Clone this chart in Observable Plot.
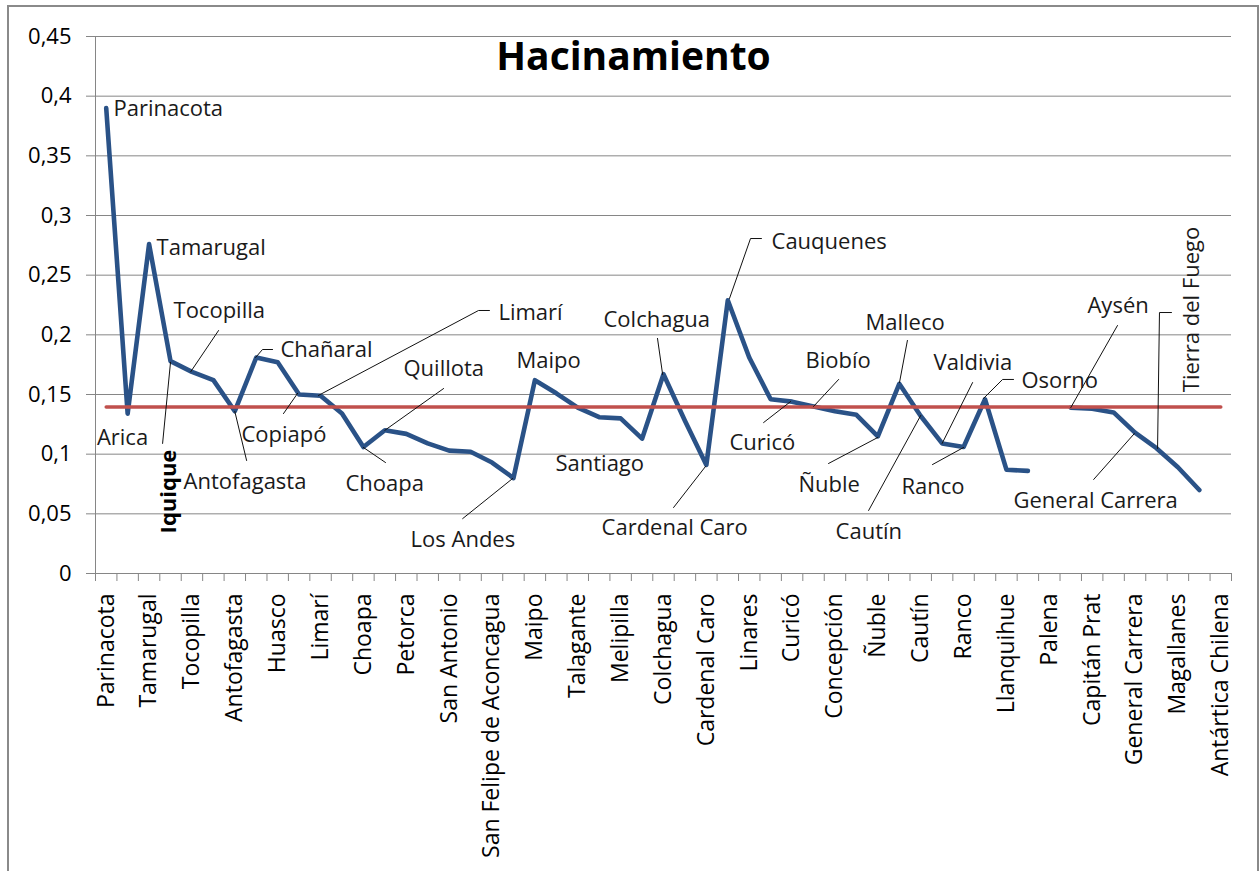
<!DOCTYPE html>
<html>
<head>
<meta charset="utf-8">
<script src="https://cdn.jsdelivr.net/npm/d3@7"></script>
<script src="https://cdn.jsdelivr.net/npm/@observablehq/plot@0.6"></script>
<style>
  body { margin: 0; background: #fff; }
  #wrap { position: relative; width: 1260px; height: 871px; overflow: hidden; background: #fff; }
  #border { position: absolute; left: 7px; top: 5px; width: 1252px; height: 900px; border: 2px solid #8a8a8a; box-sizing: border-box; pointer-events: none; }
</style>
</head>
<body>
<div id="wrap"><div id="chart"></div><div id="border"></div></div>
<script>
// Categories (provincias) in chart order
const provincias = [
  "Parinacota", "Arica", "Tamarugal", "Iquique", "Tocopilla", "El Loa", "Antofagasta",
  "Chañaral", "Huasco", "Copiapó", "Limarí", "Elqui", "Choapa", "Quillota", "Petorca",
  "Valparaíso", "San Antonio", "Isla de Pascua", "San Felipe de Aconcagua", "Los Andes",
  "Maipo", "Cordillera", "Talagante", "Santiago", "Melipilla", "Chacabuco", "Colchagua",
  "Cachapoal", "Cardenal Caro", "Cauquenes", "Linares", "Talca", "Curicó", "Biobío",
  "Concepción", "Arauco", "Ñuble", "Malleco", "Cautín", "Valdivia", "Ranco", "Osorno",
  "Llanquihue", "Chiloé", "Palena", "Aysén", "Capitán Prat", "Coyhaique", "General Carrera",
  "Tierra del Fuego", "Magallanes", "Última Esperanza", "Antártica Chilena"
];
// Series values (hacinamiento), null = no data
const hacinamiento = [
  0.390, 0.134, 0.276, 0.178, 0.169, 0.162, 0.136,
  0.181, 0.177, 0.150, 0.149, 0.134, 0.106, 0.120, 0.117,
  0.109, 0.103, 0.102, 0.093, 0.080,
  0.162, 0.151, 0.139, 0.131, 0.130, 0.113, 0.167,
  0.128, 0.091, 0.229, 0.181, 0.146, 0.144, 0.140,
  0.136, 0.133, 0.115, 0.159, 0.132, 0.109, 0.106, 0.146,
  0.087, 0.086, null, 0.139, 0.138, 0.135, 0.118,
  0.105, 0.089, 0.070, null
];
// Average line value
const promedio = 0.1395;
// Y tick values
const yTicks = [0, 0.05, 0.1, 0.15, 0.2, 0.25, 0.3, 0.35, 0.4, 0.45];
// X tick labels: every other category
const xTickIdx = provincias.map((_, i) => i).filter(i => i % 2 === 0);
const xBoundaries = d3.range(-0.5, provincias.length, 1);

// Data-label annotations (text, position in data units: category index & value)
const notaTexto = ["Parinacota","Tamarugal","Arica","Iquique","Tocopilla","Antofagasta","Chañaral","Copiapó","Limarí","Quillota","Choapa","Los Andes","Maipo","Santiago","Colchagua","Cardenal Caro","Cauquenes","Curicó","Biobío","Ñuble","Malleco","Cautín","Valdivia","Ranco","Osorno","Aysén","General Carrera","Tierra del Fuego"];
const notaX = [0.34, 2.35, 0.76, 2.93, 3.14, 3.61, 8.13, 6.31, 18.3, 13.87, 11.16, 14.2, 19.14, 20.96, 23.2, 23.11, 31.04, 29.08, 32.63, 32.3, 35.42, 34.03, 38.6, 37.1, 42.7, 45.78, 42.33, 50.64];
const notaY = [0.389, 0.273, 0.114, 0.0687, 0.2196, 0.0763, 0.187, 0.1165, 0.218, 0.171, 0.0754, 0.0277, 0.1777, 0.0922, 0.2128, 0.0385, 0.278, 0.109, 0.1777, 0.0746, 0.2103, 0.0344, 0.1768, 0.0729, 0.161, 0.2238, 0.0612, 0.2212];

// Leader lines (polylines in data units)
const lideres = {
  "Iquique": [[2.63,0.109],[3.0,0.177]],
  "Tocopilla": [[5.24,0.2036],[3.94,0.169]],
  "Antofagasta": [[6.55,0.0947],[6.0,0.1358]],
  "Chañaral": [[7.76,0.1877],[7.29,0.1877],[6.97,0.181]],
  "Copiapó": [[8.27,0.134],[8.93,0.151]],
  "Limarí": [[17.88,0.2204],[17.37,0.2204],[9.9,0.1492]],
  "Quillota": [[15.74,0.155],[13.0,0.120]],
  "Choapa": [[13.03,0.093],[12.0,0.1056]],
  "Los Andes": [[16.63,0.046],[18.96,0.0796]],
  "Colchagua": [[25.72,0.197],[25.96,0.1668]],
  "Cardenal Caro": [[26.47,0.0553],[27.96,0.0897]],
  "Cauquenes": [[30.57,0.2807],[30.06,0.2807],[29.08,0.2305]],
  "Curicó": [[30.67,0.1265],[31.93,0.1441]],
  "Biobío": [[34.17,0.1626],[33.0,0.140]],
  "Ñuble": [[33.7,0.0922],[36.0,0.114]],
  "Malleco": [[37.38,0.1953],[37.01,0.16]],
  "Cautín": [[35.57,0.0528],[38.0,0.1324]],
  "Valdivia": [[40.42,0.16],[39.0,0.109]],
  "Ranco": [[38.55,0.0913],[40.0,0.1056]],
  "Osorno": [[42.33,0.1626],[41.82,0.1626],[40.93,0.1467]],
  "Aysén": [[47.18,0.2078],[45.0,0.139]],
  "General Carrera": [[46.07,0.0788],[47.97,0.1173]],
  "Tierra del Fuego": [[49.7,0.2187],[49.14,0.2187],[49.05,0.1048]]
};

const datos = provincias.map((p, i) => ({i, p, v: hacinamiento[i] == null ? NaN : hacinamiento[i]}));
const datosProm = provincias.map((p, i) => ({i, v: promedio}));
const notas = notaTexto.map((t, k) => ({
  t, x: notaX[k], y: notaY[k],
  rot: (t === "Iquique" || t === "Tierra del Fuego") ? -90 : 0,
  anchor: (t === "Arica" || t === "Iquique" || t === "Tierra del Fuego") ? "middle" : "start",
  bold: t === "Iquique"
}));
const lideresPts = Object.entries(lideres).flatMap(([id, pts]) => pts.map(([x, y]) => ({id, x, y})));

const fmt = d => String(d).replace(".", ",");
const gris = "#868686";

const chart = Plot.plot({
  width: 1260,
  height: 871,
  marginLeft: 95,
  marginRight: 29,
  marginTop: 36,
  marginBottom: 298,
  style: {fontFamily: "'Open Sans', sans-serif", fontSize: "22px", color: "#000", background: "transparent"},
  x: {type: "linear", domain: [-0.5, provincias.length - 0.5], axis: null},
  y: {domain: [0, 0.45], axis: null},
  marks: [
    Plot.gridY(yTicks, {stroke: gris, strokeOpacity: 1, strokeWidth: 1}),
    Plot.ruleX([-0.5], {stroke: gris, strokeWidth: 1}),
    Plot.axisY(yTicks, {tickSize: 9, tickPadding: 15, tickFormat: fmt, stroke: gris, fill: "#000"}),
    Plot.axisX(xBoundaries, {tickSize: 8, tickFormat: () => "", stroke: gris}),
    Plot.axisX(xTickIdx, {tickSize: 0, tickPadding: 20, tickRotate: -90, tickFormat: i => provincias[i], fill: "#000", fontSize: 23}),
    Plot.line(datos, {x: "i", y: "v", stroke: "#2a5287", strokeWidth: 4.6}),
    Plot.line(datosProm, {x: "i", y: "v", stroke: "#c0504d", strokeWidth: 3.5}),
    Plot.line(lideresPts, {x: "x", y: "y", z: "id", stroke: "#111", strokeWidth: 1, curve: "linear"}),
    Plot.text(notas, {x: "x", y: "y", text: "t", rotate: "rot", textAnchor: "start", fill: "#1a1a1a", fontSize: 22,
      filter: d => d.anchor === "start"}),
    Plot.text(notas, {x: "x", y: "y", text: "t", rotate: "rot", textAnchor: "middle", fill: "#1a1a1a", fontSize: 22,
      filter: d => d.anchor === "middle" && !d.bold}),
    Plot.text(notas, {x: "x", y: "y", text: "t", rotate: "rot", textAnchor: "middle", fill: "#000", fontSize: 22,
      fontWeight: "bold", filter: d => d.bold}),
    Plot.text(["Hacinamiento"], {frameAnchor: "top", lineAnchor: "middle", dx: -30, dy: 21, fontSize: 39, fontWeight: "bold", fill: "#000"})
  ]
});
document.getElementById("chart").appendChild(chart);
</script>
</body>
</html>
